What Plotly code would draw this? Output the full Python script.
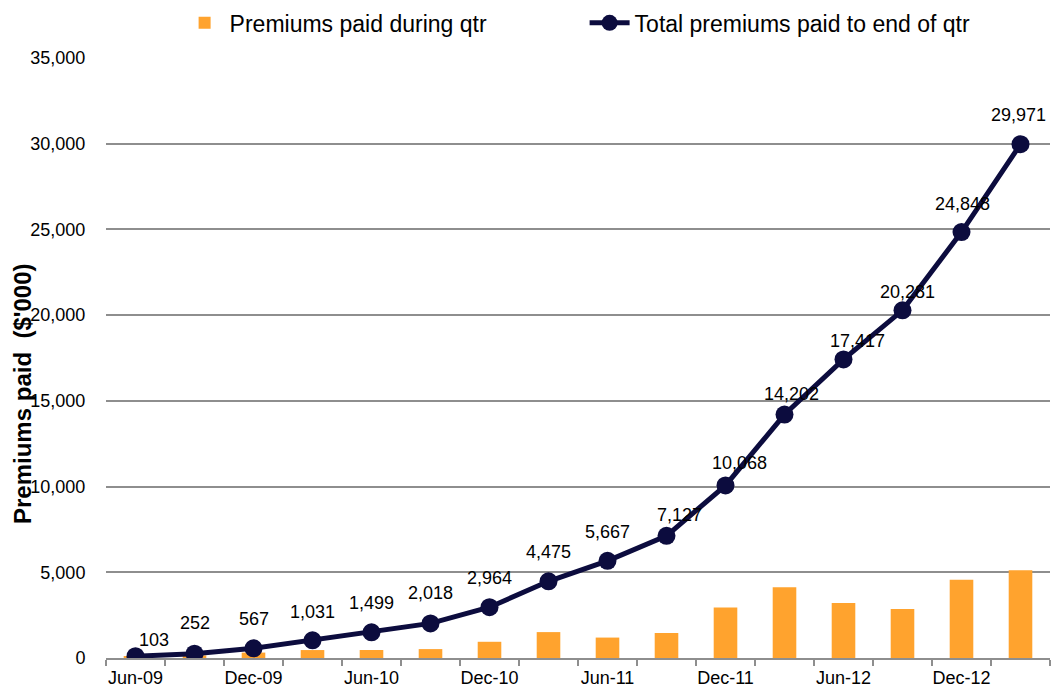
import plotly.graph_objects as go

quarters = ["Jun-09", "Sep-09", "Dec-09", "Mar-10", "Jun-10", "Sep-10", "Dec-10", "Mar-11",
            "Jun-11", "Sep-11", "Dec-11", "Mar-12", "Jun-12", "Sep-12", "Dec-12", "Mar-13"]
tick_labels = ["Jun-09", "", "Dec-09", "", "Jun-10", "", "Dec-10", "",
               "Jun-11", "", "Dec-11", "", "Jun-12", "", "Dec-12", ""]
paid_during_qtr = [103, 149, 315, 464, 468, 519, 946, 1511, 1192, 1460, 2941, 4134, 3215, 2864, 4567, 5123]
total_to_end_qtr = [103, 252, 567, 1031, 1499, 2018, 2964, 4475, 5667, 7127, 10068, 14202, 17417, 20281, 24848, 29971]

# label offsets (pixels) – style only
label_dx = [18, 0, 0, 0, 0, 0, 0, 0, 0, 13, 14, 7, 14, 5, 1, -2]
label_dy = [16, 31, 29, 28, 29, 30, 29, 29, 29, 21, 22, 21, 18, 18, 28, 29]

FONT = "Liberation Sans, Arial, sans-serif"
ORANGE = "#FFA32E"
NAVY = "#0C0C3E"
GRID = "#8E8E8E"

fig = go.Figure()
fig.add_trace(go.Bar(
    x=quarters, y=paid_during_qtr, name="Premiums paid during qtr",
    marker=dict(color=ORANGE, line=dict(width=0)),
))
fig.add_trace(go.Scatter(
    x=quarters, y=total_to_end_qtr, name="Total premiums paid to end of qtr",
    mode="lines+markers",
    line=dict(color=NAVY, width=5),
    marker=dict(color=NAVY, size=18),
))

for q, v, dx, dy in zip(quarters, total_to_end_qtr, label_dx, label_dy):
    fig.add_annotation(x=q, y=v, text=f"{v:,}", showarrow=False,
                       xshift=dx, yshift=dy, xanchor="center", yanchor="middle",
                       font=dict(family=FONT, size=18, color="#000000"))

fig.add_annotation(xref="paper", yref="paper", x=0, y=0.44, xshift=-84,
                   text="Premiums paid\u00a0\u00a0($'000)", textangle=-90, showarrow=False,
                   xanchor="center", yanchor="middle",
                   font=dict(family=FONT, size=24, color="#000000", weight="bold"))

fig.update_layout(
    width=1052, height=693,
    margin=dict(l=106, r=2, t=58, b=35),
    paper_bgcolor="white", plot_bgcolor="white",
    font=dict(family=FONT, size=18, color="#000000"),
    bargap=0.6,
    showlegend=True,
    legend=dict(orientation="h", x=0.507, xanchor="center", yref="container", y=0.967,
                yanchor="middle", font=dict(family=FONT, size=23),
                entrywidth=350, entrywidthmode="pixels", itemwidth=40,
                bgcolor="rgba(0,0,0,0)"),
    xaxis=dict(
        type="category", tickmode="array", tickvals=quarters, ticktext=tick_labels,
        range=[-0.5, len(quarters) - 0.5], autorange=False,
        tickson="boundaries", ticks="outside", ticklen=6, tickcolor=GRID, tickwidth=1.5,
        ticklabelstandoff=3,
        showline=True, linecolor=GRID, linewidth=1.5, showgrid=False, tickangle=0,
        automargin=False, tickfont=dict(family=FONT, size=18), fixedrange=True,
    ),
    yaxis=dict(
        range=[0, 35000], autorange=False, tickmode="linear", tick0=0, dtick=5000, tickformat=",d",
        showgrid=True, gridcolor=GRID, gridwidth=1.5, zeroline=False, automargin=False,
        showline=False, ticks="outside", ticklen=16, tickcolor="rgba(0,0,0,0)",
        tickfont=dict(family=FONT, size=18),
    ),
)

fig.write_html("out.html", config={"displayModeBar": False},
               post_script="document.body.style.margin='0';document.body.style.overflow='hidden';")
